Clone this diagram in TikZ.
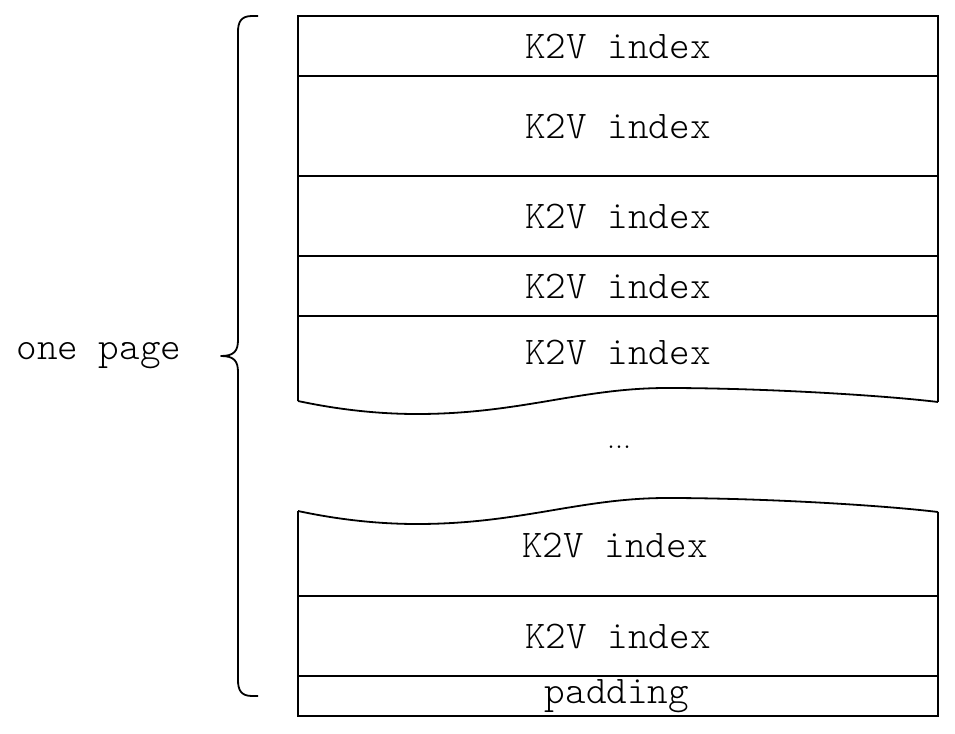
\documentclass[tikz,border=0pt]{standalone}
\begin{document}
\begin{tikzpicture}[x=0.5pt,y=-0.5pt,
  ln/.style={line width=0.9pt,line join=miter},
  lbl/.style={inner sep=0pt,font=\ttfamily\fontseries{l}\fontsize{19.6pt}{24pt}\selectfont}]
\useasboundingbox (0,0) rectangle (955,734);
% top block
\draw[ln] (298,401) -- (298,16) -- (938,16) -- (938,402);
\draw[ln] (298,401) .. controls (340,410) and (380,414) .. (417,414)
  .. controls (520,414) and (580,388) .. (667,388)
  .. controls (760,388) and (880,395) .. (938,402);
\foreach \yy in {76,176,256,316} \draw[ln] (298,\yy) -- (938,\yy);
% bottom block
\draw[ln] (298,511) -- (298,716) -- (938,716) -- (938,512);
\draw[ln] (298,511) .. controls (340,520) and (380,524) .. (417,524)
  .. controls (520,524) and (580,498) .. (667,498)
  .. controls (760,498) and (880,505) .. (938,512);
\foreach \yy in {596,676} \draw[ln] (298,\yy) -- (938,\yy);
% labels
\node[lbl] (r1) at (618,46) {K2V index};
\node[lbl] (r2) at (618,126) {K2V index};
\node[lbl] (r3) at (618,216) {K2V index};
\node[lbl] (r4) at (618,286) {K2V index};
\node[lbl] (r5) at (618,352) {K2V index};
\node[inner sep=0pt,anchor=base,font=\rmfamily\fontsize{16pt}{18pt}\selectfont] (dots) at (619,448) {...};
\node[lbl] (r6) at (615,545) {K2V index};
\node[lbl] (r7) at (618,636) {K2V index};
\node[lbl] (pad) at (617,696) {padding};
\node[lbl] (one) at (99,356) {one page};
% brace
\coordinate (btop) at (258,16);
\coordinate (bbot) at (258,696);
\coordinate (btip) at (221,356);
\draw[ln,line join=round] (btop) -- (252,16) .. controls (241,16) and (238,22) .. (238,32)
  -- (238,340) .. controls (238,351) and (234,356) .. (btip)
  .. controls (234,356) and (238,361) .. (238,372)
  -- (238,680) .. controls (238,690) and (241,696) .. (252,696) -- (bbot);
\end{tikzpicture}
\end{document}
